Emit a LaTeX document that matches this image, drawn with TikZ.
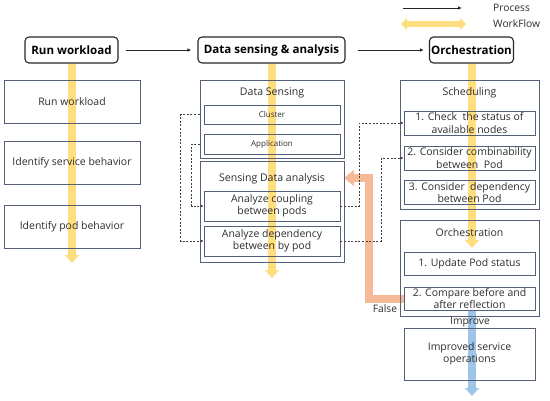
\documentclass[tikz,border=0pt]{standalone}
\usepackage{fontspec}
\setmainfont{Open Sans}
\usetikzlibrary{arrows.meta}
\pgfdeclarelayer{bg}
\pgfsetlayers{bg,main}
\definecolor{edge}{RGB}{84,96,118}
\definecolor{txt}{RGB}{45,45,45}
\definecolor{wfyellow}{RGB}{255,222,128}
\definecolor{wforange}{RGB}{247,186,152}
\definecolor{wfblue}{RGB}{158,196,232}
\begin{document}
\begin{tikzpicture}[x=1bp,y=-1bp,
  box/.style={draw=edge, line width=0.9bp, rectangle, inner sep=0pt, align=center, text=txt,
    font=\fontsize{10.5}{12.5}\selectfont},
  small/.style={box, font=\fontsize{8}{9}\selectfont},
  outer/.style={draw=edge, line width=0.9bp, rectangle, inner sep=0pt},
  title/.style={text=txt, inner sep=0pt, font=\fontsize{10.6}{12}\selectfont},
  head/.style={draw=black!85, line width=1.1bp, rounded corners=4bp, inner sep=0pt,
    font=\fontsize{11.6}{13}\selectfont\bfseries, text=black},
  proc/.style={draw=black!85, line width=0.8bp, -{Latex[length=4bp,width=3.5bp]}},
  wf/.style={line width=7.5bp, -{Triangle[width=14bp,length=8bp]}},
  dashc/.style={draw=black!75, line width=0.8bp, dash pattern=on 2bp off 1.6bp, -{Latex[length=3bp,width=3bp]}},
  lbl/.style={text=txt, inner sep=0pt, font=\fontsize{10.3}{12}\selectfont}
]
\useasboundingbox (0,0) rectangle (550,400);

% headers
\node[head, minimum width=93bp, minimum height=26bp] (h1) at (71.5,50) {Run workload};
\node[head, minimum width=147bp, minimum height=26bp] (h2) at (271.5,50) {Data sensing \& analysis};
\node[head, minimum width=84bp, minimum height=26bp] (h3) at (471.5,50) {Orchestration};

% workflow end points
\coordinate (y1) at (72,263);
\coordinate (y2) at (272,278);
\coordinate (y3) at (472,248);
\coordinate (bl) at (472,396);
\coordinate (oc) at (369,178);
\coordinate (ot) at (344,178);

% left column
\node[box, minimum width=136bp, minimum height=43bp] (b1) at (72,101.5) {Run workload};
\node[box, minimum width=136bp, minimum height=43bp] (b2) at (72,162.5) {Identify service behavior};
\node[box, minimum width=136bp, minimum height=43bp] (b3) at (72,226.5) {Identify pod behavior};

% middle column
\node[outer, minimum width=144bp, minimum height=78bp] (ds) at (272,119) {};
\node[title] (dst) at (272,93) {Data Sensing};
\node[small, minimum width=136bp, minimum height=19bp] (cl) at (272,114.5) {Cluster};
\node[small, minimum width=136bp, minimum height=20bp] (ap) at (272,144) {Application};
\node[outer, minimum width=144bp, minimum height=101bp] (sda) at (272,211.5) {};
\node[title] (sdat) at (272,179) {Sensing Data analysis};
\node[box, minimum width=136bp, minimum height=30bp] (cp) at (272,206) {Analyze coupling\\between pods};
\node[box, minimum width=136bp, minimum height=30bp] (dp) at (272,241) {Analyze dependency\\between by pod};

% right column
\node[outer, minimum width=139bp, minimum height=129bp] (sc) at (469.5,144.5) {};
\node[title] (sct) at (469.5,93) {Scheduling};
\node[box, minimum width=131bp, minimum height=24bp] (ck) at (469.5,123) {1. Check \ the status of\\available nodes};
\node[box, minimum width=131bp, minimum height=24bp] (cb) at (469.5,158) {2. Consider combinability\\between \ Pod};
\node[box, minimum width=131bp, minimum height=24bp] (cd) at (469.5,192.5) {3. Consider \ dependency\\between Pod};
\node[outer, minimum width=139bp, minimum height=96bp] (or) at (469.5,268) {};
\node[title] (ort) at (469.5,233) {Orchestration};
\node[box, minimum width=131bp, minimum height=23bp] (up) at (469.5,263.5) {1. Update Pod status};
\node[box, minimum width=131bp, minimum height=23bp] (cm) at (469.5,298.5) {2. Compare before and\\after reflection};
\node[box, minimum width=131bp, minimum height=52bp] (im) at (469.5,354) {Improved service\\operations};

\node[lbl] (imp) at (470,322) {Improve};
\node[lbl] (fl) at (385,309) {False};

% legend
\coordinate (la) at (403,8);
\coordinate (lb) at (462,8);
\coordinate (lc) at (401,24);
\coordinate (ld) at (466,24);
\node[lbl, anchor=west] (lp) at (493,8) {Process};
\node[lbl, anchor=west] (lw) at (493,24) {WorkFlow};
\draw[proc] (la) -- (lb);

% process arrows between headers
\draw[proc] ([xshift=7bp]h1.east) -- ([xshift=-6bp]h2.west);
\draw[proc] ([xshift=12bp]h2.east) -- ([xshift=-5bp]h3.west);

% workflow arrows (behind)
\begin{pgfonlayer}{bg}
\draw[line width=6bp, wfyellow, {Triangle[width=12bp,length=6bp]}-{Triangle[width=12bp,length=6bp]}] (lc) -- (ld);
\draw[wf, wfyellow] (h1.south -| y1) -- (y1);
\draw[wf, wfyellow] (h2.south -| y2) -- (y2);
\draw[wf, wfyellow] (h3.south -| y3) -- (y3);
\draw[wf, wfblue] (cm.south -| bl) -- (bl);
\draw[wforange, line width=8bp, -{Triangle[width=16bp,length=10bp]}] (cm.west) -| (oc) -- (ot);
\end{pgfonlayer}

% dashed connectors
\draw[dashc] (ds.west |- cl) -- ++(-19,0) |- (dp.west);
\draw[dashc] (ds.west |- ap) -- ++(-8,0) |- (cp.west);
\draw[dashc] (cp.east) -- ++(19,0) |- (ck.west);
\draw[dashc] (dp.east) -- ++(41,0) |- (cb.west);
\end{tikzpicture}
\end{document}
